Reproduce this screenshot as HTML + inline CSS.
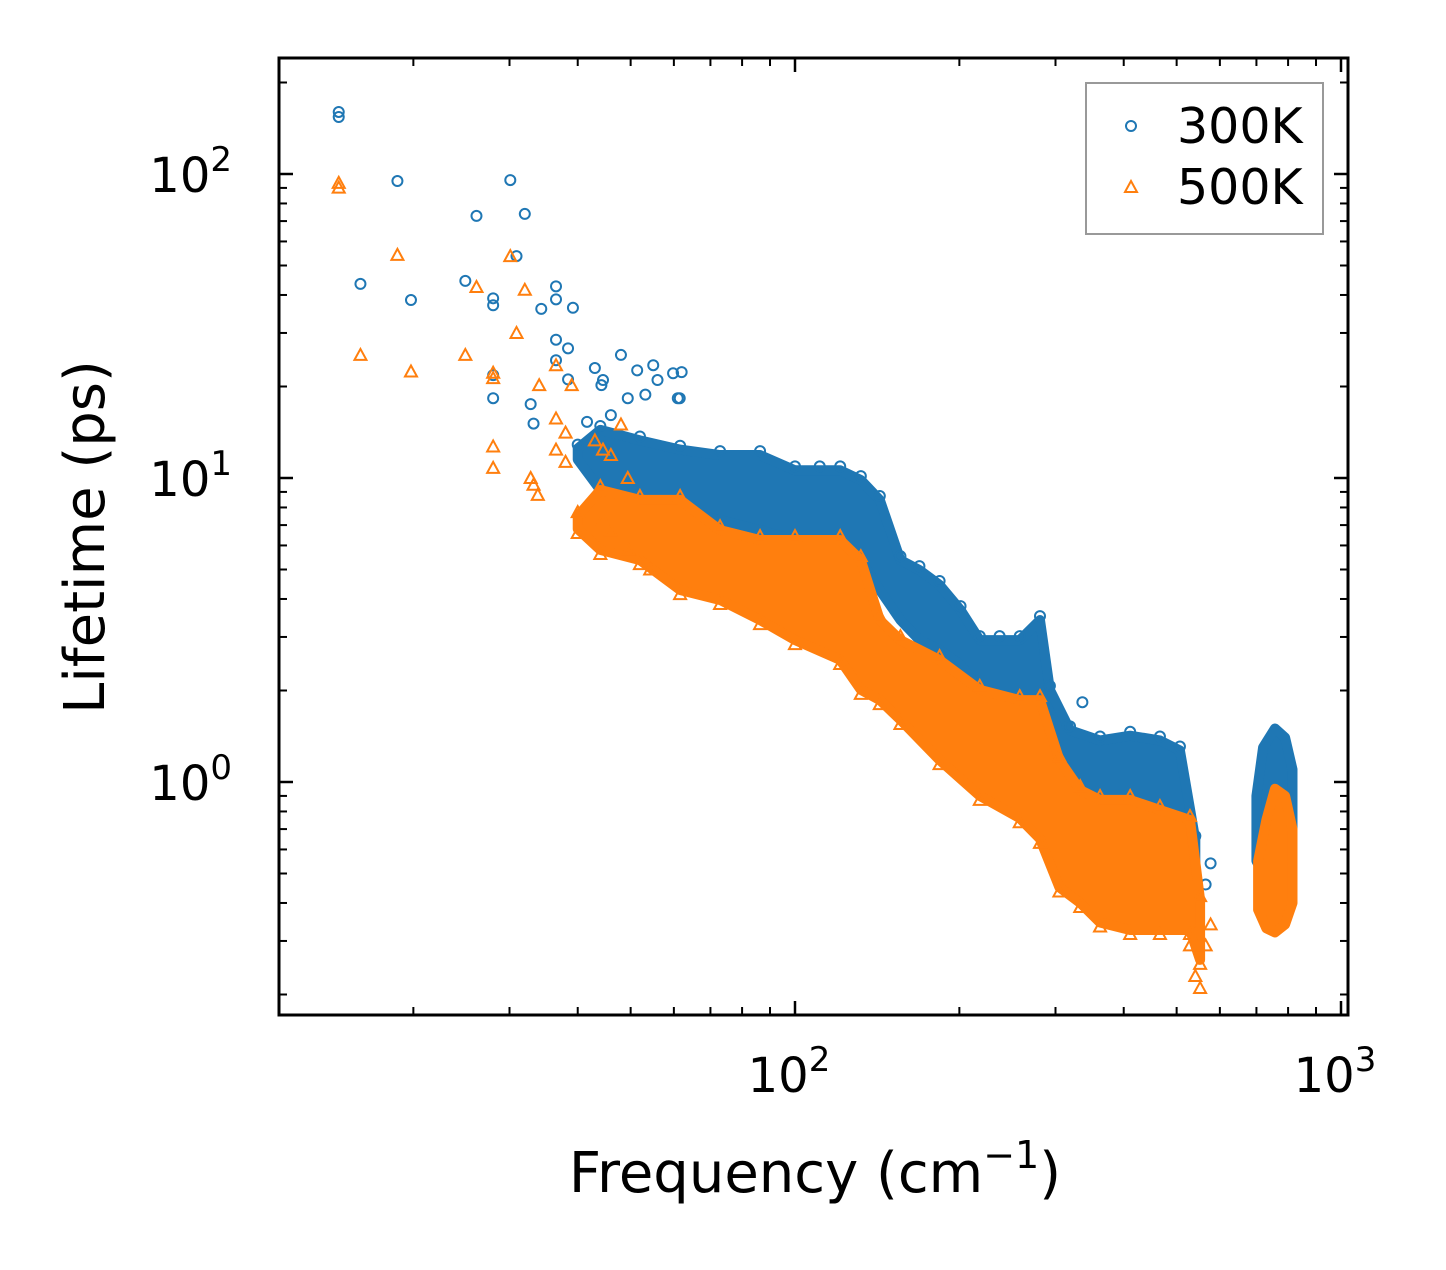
<!DOCTYPE html>
<html><head><meta charset="utf-8">
<style>
html,body{margin:0;padding:0;background:#fff;}
svg text{font-family:"DejaVu Sans","Liberation Sans",sans-serif;fill:#000;}
</style></head>
<body>
<svg id="chart" width="1446" height="1265" viewBox="0 0 1446 1265" xmlns="http://www.w3.org/2000/svg">
<rect width="1446" height="1265" fill="#fff"/>
<g id="marks"></g>
<g id="axes"></g>
<text x="815" y="1192" font-size="56" text-anchor="middle">Frequency (cm<tspan dy="-24" font-size="38">−1</tspan><tspan dy="24">)</tspan></text>
<text transform="translate(104,537) rotate(-90)" font-size="56" text-anchor="middle">Lifetime (ps)</text>
<g>
<rect x="1086" y="83" width="237" height="151" fill="#fff" stroke="#999" stroke-width="2"/>
<circle cx="1131" cy="126" r="5" fill="none" stroke="#1f77b4" stroke-width="2"/>
<text x="1177" y="143" font-size="49">300K</text>
<path d="M1131,181 L1137,192 L1125,192 Z" fill="none" stroke="#ff7f0e" stroke-width="2"/>
<text x="1177" y="204" font-size="49">500K</text>
</g>
</svg>
<script>
// ---- data ----
const blueSparseF = [14.6,14.6,16.0,18.7,19.8,24.9,26.1,28,28,28,28,30.1,30.9,32.0,32.8,33.2,34.3,36.5,36.5,36.5,36.5,38.4,38.4,39.2,41.6,43,44.5,44.2,46,48,49.4,51.4,53.2,55,56,59.8,62,61.5,61,316,336,529,565,577];
const blueSparseT = [160,154,43.5,94.8,38.5,44.5,72.8,21.8,18.3,39,37,95.5,53.7,73.9,17.5,15.1,36,42.7,38.7,28.5,24.4,26.7,21.1,36.3,15.3,23,21,20.2,16.1,25.4,18.3,22.6,18.8,23.5,21,22.1,22.3,18.3,18.3,1.52,1.83,0.6,0.46,0.54];
const orangeSparseF = [14.6,14.6,16,18.7,19.8,24.9,26.1,28,28,28,28,30.1,30.9,32,32.8,33.2,33.8,34,36.5,36.5,36.5,38,38,39,43,44.5,46,48,49.4,44.5,46,49.6,54.3,529,541,552,565,577];
const orangeSparseT = [93.5,90.2,25.4,54.2,22.4,25.4,42.5,12.7,10.8,22.2,21.3,53.7,30,41.6,10,9.5,8.8,20.2,23.5,15.7,12.4,14.1,11.3,20.2,13.3,12.4,11.9,15,10,7.3,6.7,5.8,5.0,0.29,0.23,0.21,0.29,0.34];
const blueBandF = [40,44,52,61.6,72.9,86.3,100,111,121,132,143,156,169,184,201,218,237,258,281,293,319,362,411,466,507,541];
const blueBandTop = [12.5,14.4,13.3,12.4,11.9,11.9,10.6,10.6,10.6,9.85,8.47,5.37,4.98,4.45,3.68,2.93,2.93,2.93,3.41,2.01,1.48,1.37,1.42,1.37,1.27,0.645];
const blueBandBot = [11.5,9.13,8.47,7.85,7.27,6.74,6.25,6.02,5.80,5.37,4.28,3.41,2.93,2.72,2.43,2.01,1.86,1.86,1.60,1.18,1.02,0.873,0.809,0.750,0.695,0.514];
const blueIslandF = [700,720,757,790,815];
const blueIslandTop = [0.9,1.3,1.5,1.4,1.1];
const blueIslandBot = [0.55,0.5,0.52,0.6,0.7];
const orangeBandF = [40,44,52,61.6,72.9,86.3,100,121,132,143,156,184,218,258,281,305,333,362,411,466,529,552];
const orangeBandTop = [7.5,9.13,8.47,8.47,6.74,6.25,6.25,6.25,5.37,3.41,2.93,2.52,2.01,1.86,1.86,1.18,0.94,0.873,0.873,0.809,0.75,0.409];
const orangeBandBot = [6.8,5.80,5.37,4.28,3.97,3.41,2.93,2.52,2.01,1.86,1.60,1.18,0.90,0.76,0.65,0.45,0.40,0.345,0.326,0.326,0.326,0.26];
const orangeIslandF = [705,730,757,790,815];
const orangeIslandTop = [0.55,0.75,0.95,0.9,0.7];
const orangeIslandBot = [0.38,0.33,0.32,0.34,0.4];
const xMajorTicks = [100,1000];
const xMajorLabels = ["2","3"];
const yMajorTicks = [1,10,100];
const yMajorLabels = ["0","1","2"];

// ---- scales ----
const X0=279,X1=1348,Y0=58,Y1=1015;
function xs(f){return 795+(Math.log10(f)-2)*546;}
function ys(t){return 782-Math.log10(t)*304;}
const NS="http://www.w3.org/2000/svg";
const marks=document.getElementById('marks');
const axes=document.getElementById('axes');
function mk(tag,attrs,parent){const e=document.createElementNS(NS,tag);for(const k in attrs)e.setAttribute(k,attrs[k]);parent.appendChild(e);return e;}
const BLUE="#1f77b4",ORANGE="#ff7f0e";

function band(F,T,B,color,name){
  let pts=[];
  for(let i=0;i<F.length;i++)pts.push(xs(F[i])+','+ys(T[i]));
  for(let i=F.length-1;i>=0;i--)pts.push(xs(F[i])+','+ys(B[i]));
  const p=mk('polygon',{points:pts.join(' '),fill:color,stroke:color,'stroke-width':10,'stroke-linejoin':'round'},marks);
  
  
}
function circ(f,t){
  const c=mk('circle',{cx:xs(f),cy:ys(t),r:5,fill:'none',stroke:BLUE,'stroke-width':2},marks);
  
  
}
function tri(f,t){
  const x=xs(f),y=ys(t);
  const p=mk('path',{d:`M${x},${y-6} L${x+6},${y+5} L${x-6},${y+5} Z`,fill:'none',stroke:ORANGE,'stroke-width':2},marks);
  
  
}
band(blueBandF,blueBandTop,blueBandBot,BLUE,'band-300k');
band(blueIslandF,blueIslandTop,blueIslandBot,BLUE,'band-300k-high');
for(let i=0;i<blueBandF.length;i++)circ(blueBandF[i],blueBandTop[i]*1.03);
for(let i=0;i<blueSparseF.length;i++)circ(blueSparseF[i],blueSparseT[i]);
band(orangeBandF,orangeBandTop,orangeBandBot,ORANGE,'band-500k');
band(orangeIslandF,orangeIslandTop,orangeIslandBot,ORANGE,'band-500k-high');
for(let i=0;i<orangeBandF.length;i++)tri(orangeBandF[i],orangeBandTop[i]*1.03);
for(let i=0;i<orangeBandF.length;i++)tri(orangeBandF[i],orangeBandBot[i]*0.97);
for(let i=0;i<orangeSparseF.length;i++)tri(orangeSparseF[i],orangeSparseT[i]);

// ---- axes ----
function line(x1,y1,x2,y2,w,name){const l=mk('line',{x1,y1,x2,y2,stroke:'#000','stroke-width':w},axes);}
for(let d=1;d<=3;d++){for(let m=1;m<=9;m++){const v=m*Math.pow(10,d);const x=xs(v);if(x<X0||x>X1)continue;const L=m===1?14:8;const w=m===1?2.5:2;
  line(x,Y1,x,Y1-L,w,m===1?'x-major-tick':'x-minor-tick');line(x,Y0,x,Y0+L,w,m===1?'x-major-tick':'x-minor-tick');}}
for(let d=-1;d<=2;d++){for(let m=1;m<=9;m++){const v=m*Math.pow(10,d);const y=ys(v);if(y<Y0||y>Y1)continue;const L=m===1?14:8;const w=m===1?2.5:2;
  line(X0,y,X0+L,y,w,m===1?'y-major-tick':'y-minor-tick');line(X1,y,X1-L,y,w,m===1?'y-major-tick':'y-minor-tick');}}
const fr=mk('rect',{x:X0,y:Y0,width:X1-X0,height:Y1-Y0,fill:'none',stroke:'#000','stroke-width':3},axes);


for(let i=0;i<xMajorTicks.length;i++){
  const t=mk('text',{x:xs(xMajorTicks[i])-6,y:1092,'font-size':48,'text-anchor':'middle'},axes);
  
  
  t.innerHTML='10<tspan dy="-21" font-size="34">'+xMajorLabels[i]+'</tspan>';
}
for(let i=0;i<yMajorTicks.length;i++){
  const t=mk('text',{x:232,y:ys(yMajorTicks[i])+18,'font-size':48,'text-anchor':'end'},axes);
  
  
  t.innerHTML='10<tspan dy="-21" font-size="34">'+yMajorLabels[i]+'</tspan>';
}
</script>
</body></html>
